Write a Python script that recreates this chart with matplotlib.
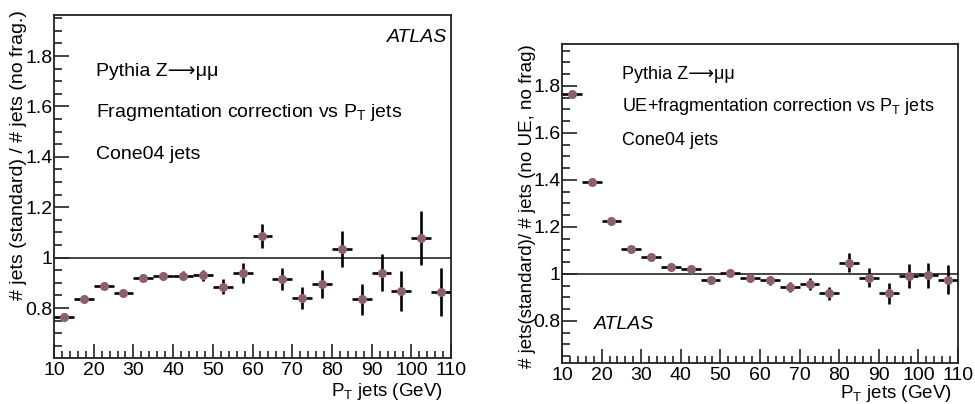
import numpy as np
import matplotlib
matplotlib.use('Agg')
import matplotlib.pyplot as plt
from matplotlib.ticker import MultipleLocator

plt.rcParams['font.family'] = ['Liberation Sans', 'DejaVu Sans']
plt.rcParams['mathtext.fontset'] = 'custom'
plt.rcParams['mathtext.rm'] = 'Liberation Sans'
plt.rcParams['mathtext.it'] = 'Liberation Sans:italic'

# bin centres (GeV), 5 GeV wide bins from 10 to 110
pt_bins = [12.5, 17.5, 22.5, 27.5, 32.5, 37.5, 42.5, 47.5, 52.5, 57.5,
           62.5, 67.5, 72.5, 77.5, 82.5, 87.5, 92.5, 97.5, 102.5, 107.5]

# fragmentation correction (left)
frag_ratio = [0.766, 0.837, 0.889, 0.860, 0.921, 0.929, 0.929, 0.931, 0.885, 0.939,
              1.086, 0.917, 0.840, 0.896, 1.034, 0.835, 0.940, 0.869, 1.077, 0.865]
frag_err = [0.004, 0.005, 0.006, 0.007, 0.012, 0.015, 0.018, 0.022, 0.030, 0.038,
            0.048, 0.044, 0.045, 0.054, 0.071, 0.061, 0.073, 0.079, 0.107, 0.095]

# UE + fragmentation correction (right)
ue_ratio = [1.764, 1.391, 1.223, 1.107, 1.072, 1.030, 1.020, 0.976, 1.004, 0.983,
            0.972, 0.945, 0.957, 0.918, 1.048, 0.984, 0.918, 0.990, 0.994, 0.976]
ue_err = [0.003, 0.003, 0.004, 0.005, 0.006, 0.007, 0.008, 0.010, 0.013, 0.016,
          0.020, 0.022, 0.024, 0.027, 0.040, 0.040, 0.044, 0.050, 0.054, 0.060]

marker_col = '#8c6069'
title_z = 'Pythia Z\u27f6\u03bc\u03bc'

fig = plt.figure(figsize=(9.75, 4.04), dpi=100)
ax1 = fig.add_axes([0.0554, 0.1139, 0.4072, 0.849])
ax2 = fig.add_axes([0.5764, 0.1015, 0.4062, 0.7896])


def style_axis(ax, ymin, ymax):
    ax.set_xlim(10, 110)
    ax.set_ylim(ymin, ymax)
    ax.xaxis.set_major_locator(MultipleLocator(10))
    ax.xaxis.set_minor_locator(MultipleLocator(2))
    ax.yaxis.set_major_locator(MultipleLocator(0.2))
    ax.yaxis.set_minor_locator(MultipleLocator(0.05))
    ax.yaxis.set_major_formatter(plt.FuncFormatter(lambda v, p: '%g' % round(v, 2)))
    ax.tick_params(which='both', direction='in', top=False, right=False,
                   labelsize=14, width=1.2, color='#222222')
    ax.tick_params(axis='x', which='major', length=10, pad=3)
    ax.tick_params(axis='x', which='minor', length=5)
    ax.tick_params(axis='y', which='major', length=11, pad=1)
    ax.tick_params(axis='y', which='minor', length=6)
    for s in ax.spines.values():
        s.set_linewidth(1.3)
        s.set_color('#222222')
    ax.axhline(1.0, color='#444444', lw=1.4, zorder=1)
    ax.set_xlabel('P$_{\\mathrm{T}}$ jets (GeV)', fontsize=13.5, loc='right')


# left panel
style_axis(ax1, 0.602, 1.963)
ax1.errorbar(pt_bins, frag_ratio, xerr=2.5, yerr=frag_err, fmt='o', ms=5.5,
             mfc=marker_col, mec=marker_col, ecolor='black', elinewidth=1.9,
             capsize=0, zorder=3)
ax1.set_ylabel('# jets (standard) / # jets (no frag.)', fontsize=14, loc='top')
ax1.yaxis.set_label_coords(-0.068, 1.015)
ax1.xaxis.set_label_coords(0.98, -0.068)
ax1.text(0.105, 0.835, title_z, transform=ax1.transAxes, fontsize=14, va='center')
ax1.text(0.105, 0.715, 'Fragmentation correction vs P$_{\\mathrm{T}}$ jets', transform=ax1.transAxes,
         fontsize=14, va='center')
ax1.text(0.105, 0.592, 'Cone04 jets', transform=ax1.transAxes, fontsize=14, va='center')
ax1.text(0.99, 0.935, 'ATLAS', transform=ax1.transAxes, fontsize=14, style='italic',
         ha='right', va='center')

# right panel
style_axis(ax2, 0.621, 1.978)
ax2.errorbar(pt_bins, ue_ratio, xerr=2.5, yerr=ue_err, fmt='o', ms=5.5,
             mfc=marker_col, mec=marker_col, ecolor='black', elinewidth=1.9,
             capsize=0, zorder=3)
ax2.set_ylabel('# jets(standard)/ # jets (no UE, no frag)', fontsize=13.5, loc='top')
ax2.yaxis.set_label_coords(-0.066, 1.0)
ax2.xaxis.set_label_coords(0.985, -0.063)
ax2.text(0.152, 0.905, title_z, transform=ax2.transAxes, fontsize=13, va='center')
ax2.text(0.152, 0.805, 'UE+fragmentation correction vs P$_{\\mathrm{T}}$ jets', transform=ax2.transAxes,
         fontsize=13, va='center')
ax2.text(0.152, 0.698, 'Cone04 jets', transform=ax2.transAxes, fontsize=13, va='center')
ax2.text(0.08, 0.12, 'ATLAS', transform=ax2.transAxes, fontsize=14, style='italic',
         ha='left', va='center')

fig.savefig('out.png', dpi=100)
